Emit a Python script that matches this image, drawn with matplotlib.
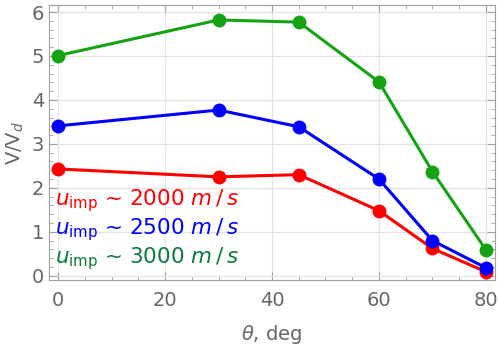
import matplotlib.pyplot as plt
from matplotlib.ticker import MultipleLocator

theta = [0, 30, 45, 60, 70, 80]
v_2000 = [2.43, 2.25, 2.30, 1.48, 0.62, 0.09]
v_2500 = [3.41, 3.77, 3.39, 2.20, 0.80, 0.18]
v_3000 = [5.01, 5.82, 5.77, 4.41, 2.37, 0.59]

labels = ["2000", "2500", "3000"]
line_colors = ["#ff0000", "#0000ff", "#13a313"]
text_colors = ["#ff0000", "#0000ff", "#0b7a3e"]

plt.rcParams['font.family'] = ['DejaVu Sans']
plt.rcParams['mathtext.fontset'] = 'dejavusans'

fig = plt.figure(figsize=(4.98, 3.45), dpi=100)
ax = fig.add_axes([0.0984, 0.188, 0.8956, 0.7975])

for ys, c in zip([v_2000, v_2500, v_3000], line_colors):
    ax.plot(theta, ys, color=c, lw=2.2, marker='o', ms=9, zorder=3)

ax.set_xlim(-1.7, 81.7)
ax.set_ylim(-0.1, 6.16)
ax.xaxis.set_major_locator(MultipleLocator(20))
ax.xaxis.set_minor_locator(MultipleLocator(5))
ax.yaxis.set_major_locator(MultipleLocator(1))
ax.yaxis.set_minor_locator(MultipleLocator(0.2))
ax.grid(True, which='major', color='#e3e3e3', lw=0.9, zorder=0)
ax.set_axisbelow(True)

gray = '#666666'
for s in ax.spines.values():
    s.set_color('#a0a0a0')
ax.tick_params(which='both', direction='in', top=True, right=True,
               color='#a0a0a0', labelcolor=gray, labelsize=14)
ax.tick_params(which='major', length=6)
ax.tick_params(which='minor', length=3)
ax.tick_params(axis='x', pad=8)

ax.set_xlabel(r'$\theta$, deg', color=gray, fontsize=14, labelpad=9)
ax.set_ylabel(r'V/V$_d$', color=gray, fontsize=14, labelpad=4)

for i, (lab, c) in enumerate(zip(labels, text_colors)):
    ax.text(0.014, 0.29 - i * 0.105,
            r'$u_{\mathrm{imp}}$ ~ ' + lab + r' $m\,/\,s$',
            transform=ax.transAxes, color=c, fontsize=15.5, va='center')

fig.savefig('out.png', dpi=100)
